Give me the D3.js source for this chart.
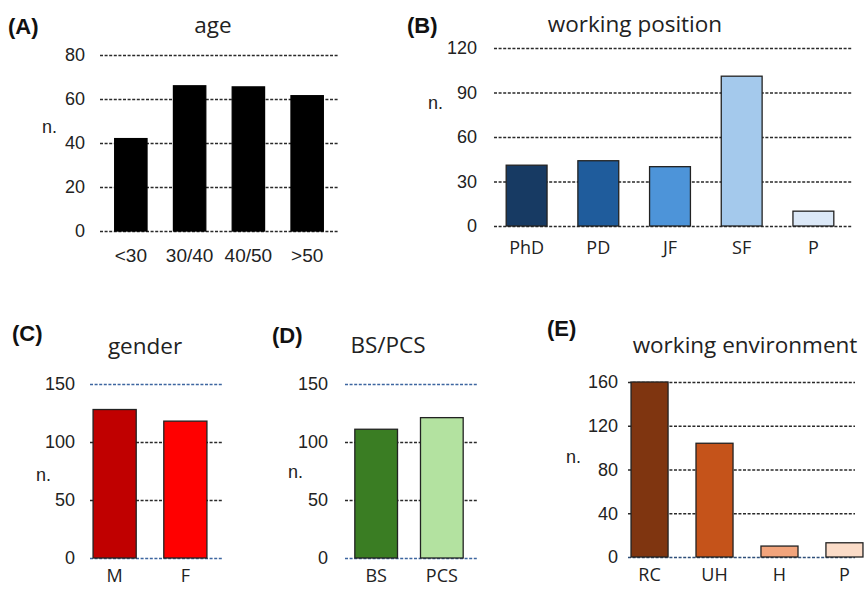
<!DOCTYPE html>
<html>
<head>
<meta charset="utf-8">
<script src="https://cdn.jsdelivr.net/npm/d3@7"></script>
<style>
  body { margin: 0; background: #fff; }
  svg { display: block; }
</style>
</head>
<body>
<svg id="chart" width="864" height="589"></svg>
<script>
// ---- Data ----
const ageCategories = ["<30", "30/40", "40/50", ">50"];
const ageValues = [42, 66, 65.5, 61.5];
const ageTicks = [0, 20, 40, 60, 80];

const positionCategories = ["PhD", "PD", "JF", "SF", "P"];
const positionValues = [41, 44, 40, 101, 10];
const positionTicks = [0, 30, 60, 90, 120];

const genderCategories = ["M", "F"];
const genderValues = [128, 118];
const genderTicks = [0, 50, 100, 150];

const bspcsCategories = ["BS", "PCS"];
const bspcsValues = [111, 121];
const bspcsTicks = [0, 50, 100, 150];

const envCategories = ["RC", "UH", "H", "P"];
const envValues = [160, 104, 10, 13];
const envTicks = [0, 40, 80, 120, 160];

// ---- Layout / style ----
const panels = [
  { tag: "(A)", title: "age", cats: ageCategories, vals: ageValues, ticks: ageTicks,
    colors: ["#000", "#000", "#000", "#000"], stroke: "#000",
    y0: 231, y1: 55, gx0: 100, gx1: 338, bx0: 100, bx1: 338, pin: 0.45, pout: 0.25,
    tickPad: 15, xPad: 18, xFont: "Liberation Sans, Arial, sans-serif", xSize: 19,
    tagX: 8, tagY: 34, titleX: 213, titleY: 33, nX: 42, nY: 133,
    gridColor: () => "#2a2a2a" },
  { tag: "(B)", title: "working position", cats: positionCategories, vals: positionValues, ticks: positionTicks,
    colors: ["#173a63", "#1f5c9c", "#4d94d9", "#a4c9ec", "#dbe8f7"], stroke: "#222",
    y0: 226, y1: 48, gx0: 494, gx1: 852, bx0: 494, bx1: 846, pin: 0.43, pout: 0.17,
    tickPad: 17, xPad: 15, xFont: "Open Sans, sans-serif", xSize: 18,
    tagX: 407, tagY: 33, titleX: 635, titleY: 32, nX: 428, nY: 109,
    gridColor: () => "#2a2a2a" },
  { tag: "(C)", title: "gender", cats: genderCategories, vals: genderValues, ticks: genderTicks,
    colors: ["#c00000", "#ff0000"], stroke: "#222",
    y0: 558, y1: 384, gx0: 90, gx1: 222, bx0: 86, bx1: 214, pin: 0.39, pout: 0.1,
    tickPad: 15, xPad: 11, xFont: "Open Sans, sans-serif", xSize: 18,
    tagX: 12, tagY: 341, titleX: 145, titleY: 354, nX: 36, nY: 481,
    gridColor: v => (v === 0 || v === 150) ? "#3d66a0" : "#2a2a2a" },
  { tag: "(D)", title: "BS/PCS", cats: bspcsCategories, vals: bspcsValues, ticks: bspcsTicks,
    colors: ["#3a7d23", "#b3e2a0"], stroke: "#222",
    y0: 558, y1: 384, gx0: 345, gx1: 477, bx0: 343, bx1: 475, pin: 0.35, pout: 0.18,
    tickPad: 17, xPad: 11, xFont: "Open Sans, sans-serif", xSize: 18,
    tagX: 272, tagY: 343, titleX: 388, titleY: 353, nX: 288, nY: 478,
    gridColor: v => (v === 0 || v === 150) ? "#3d66a0" : "#2a2a2a" },
  { tag: "(E)", title: "working environment", cats: envCategories, vals: envValues, ticks: envTicks,
    colors: ["#7f3510", "#c5531a", "#f2a47c", "#fbdcc8"], stroke: "#222",
    y0: 557, y1: 382, gx0: 628, gx1: 855, bx0: 617, bx1: 877, pin: 0.43, pout: 0.216,
    tickPad: 10, xPad: 11, xFont: "Open Sans, sans-serif", xSize: 18,
    tagX: 547, tagY: 336, titleX: 745, titleY: 353, nX: 566, nY: 463,
    gridColor: v => v === 0 ? "#2f4f7a" : "#2a2a2a" }
];

const svg = d3.select("#chart");

panels.forEach(p => {
  const g = svg.append("g");
  const y = d3.scaleLinear().domain([0, d3.max(p.ticks)]).range([p.y0, p.y1]);
  const x = d3.scaleBand().domain(p.cats).range([p.bx0, p.bx1])
    .paddingInner(p.pin).paddingOuter(p.pout);

  // grid + y tick labels via axis
  const yAxis = g.append("g")
    .attr("transform", `translate(${p.gx0},0)`)
    .call(d3.axisLeft(y).tickValues(p.ticks).tickSize(-(p.gx1 - p.gx0)).tickPadding(p.tickPad));
  yAxis.select(".domain").remove();
  yAxis.selectAll(".tick line")
    .attr("stroke", d => p.gridColor(d))
    .attr("stroke-width", 1.7)
    .attr("stroke-dasharray", "3,1.6");
  yAxis.selectAll(".tick text")
    .attr("font-family", "Liberation Sans, Arial, sans-serif")
    .attr("font-size", 18)
    .attr("fill", "#222");

  // bars
  g.append("g").selectAll("rect").data(p.vals).join("rect")
    .attr("x", (d, i) => x(p.cats[i]))
    .attr("width", x.bandwidth())
    .attr("y", d => y(d))
    .attr("height", d => y(0) - y(d))
    .attr("fill", (d, i) => p.colors[i])
    .attr("stroke", p.stroke)
    .attr("stroke-width", 1.3);

  // x axis labels
  const xAxis = g.append("g")
    .attr("transform", `translate(0,${p.y0})`)
    .call(d3.axisBottom(x).tickSize(0).tickPadding(p.xPad));
  xAxis.select(".domain").remove();
  xAxis.selectAll(".tick text")
    .attr("font-family", p.xFont)
    .attr("font-size", p.xSize)
    .attr("fill", "#222");

  // panel tag
  g.append("text").attr("x", p.tagX).attr("y", p.tagY)
    .attr("font-family", "Liberation Sans, Arial, sans-serif")
    .attr("font-weight", "bold").attr("font-size", 22).attr("fill", "#111")
    .text(p.tag);

  // title
  g.append("text").attr("x", p.titleX).attr("y", p.titleY)
    .attr("text-anchor", "middle")
    .attr("font-family", "Open Sans, sans-serif")
    .attr("font-size", 22.5).attr("fill", "#222")
    .text(p.title);

  // y label
  g.append("text").attr("x", p.nX).attr("y", p.nY)
    .attr("font-family", "Liberation Sans, Arial, sans-serif")
    .attr("font-size", 18).attr("fill", "#222")
    .text("n.");
});
</script>
</body>
</html>
